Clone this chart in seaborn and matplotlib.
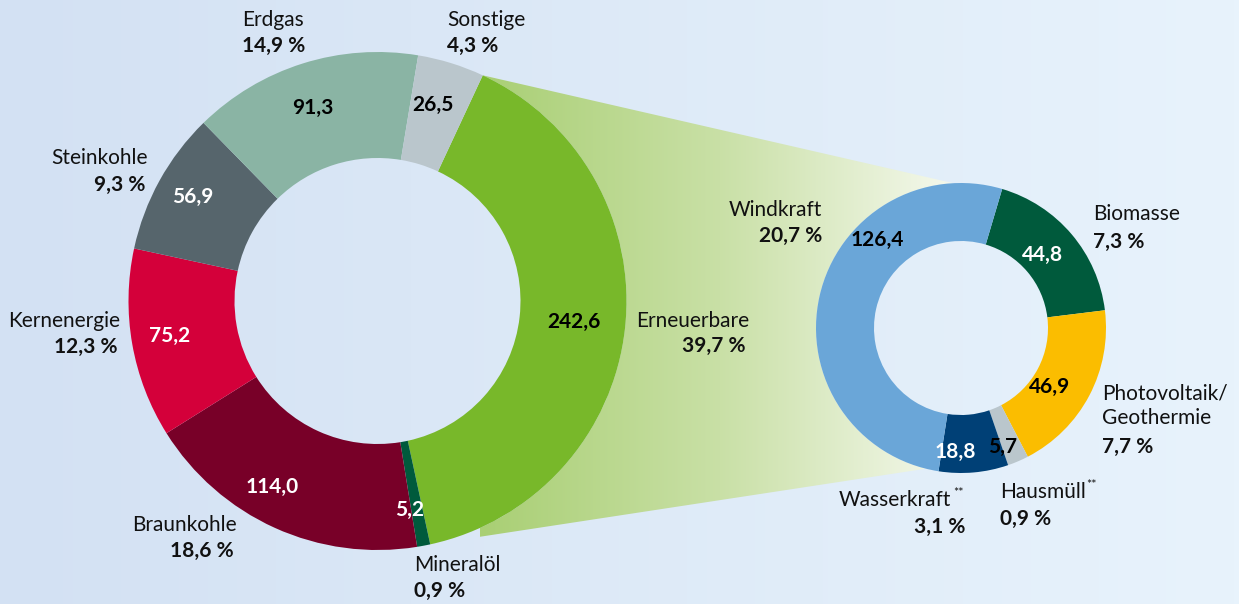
import numpy as np
import matplotlib.pyplot as plt
import seaborn as sns
from matplotlib.patches import Polygon

# ==========================================
# Data
# ==========================================

# Bruttostromerzeugung, left donut (TWh), clockwise from Erneuerbare
main_labels = ["Erneuerbare", "Mineralöl", "Braunkohle", "Kernenergie",
               "Steinkohle", "Erdgas", "Sonstige"]
main_values = [242.6, 5.2, 114.0, 75.2, 56.9, 91.3, 26.5]
main_shares = [39.7, 0.9, 18.6, 12.3, 9.3, 14.9, 4.3]
main_colors = ["#78b82a", "#005a3c", "#780028", "#d4003a",
               "#56656c", "#8ab4a4", "#bac6cc"]
main_value_colors = ["black", "white", "white", "white", "white", "black", "black"]

# Erneuerbare split, right donut, clockwise from Biomasse
ren_labels = ["Biomasse", "Photovoltaik/\nGeothermie", "Hausmüll", "Wasserkraft", "Windkraft"]
ren_values = [44.8, 46.9, 5.7, 18.8, 126.4]
ren_shares = [7.3, 7.7, 0.9, 3.1, 20.7]
ren_colors = ["#005a3c", "#fbbd00", "#bac6cc", "#004076", "#6aa6d8"]
ren_value_colors = ["white", "black", "black", "white", "black"]
ren_footnote = ["", "", "**", "**", ""]


def fmt(v):
    return f"{v:.1f}".replace(".", ",")


# ==========================================
# Layout (pixel coords, y measured from top)
# ==========================================

W, H = 1239, 604
FONT = "Lato"
FS = 15
TXT = "#111111"

def ty(y):
    return H - y

L_CX, L_CY, L_R, L_r = 377.5, ty(301), 249, 143
R_CX, R_CY, R_R, R_r = 961, ty(328), 145, 87

# name label: (x_name, y_name, x_pct, y_pct, ha_name, ha_pct)
main_label_pos = [(636, 321, 746, 346, "left", "right"),
                  (414, 565, 414, 591, "left", "left"),
                  (237, 525, 234, 551, "right", "right"),
                  (120, 321, 117, 347, "right", "right"),
                  (148, 158, 145, 185, "right", "right"),
                  (242, 20, 242, 46, "left", "left"),
                  (447, 20, 447, 46, "left", "left")]
main_value_pos = [(574, 322), (410, 510), (272, 487), (170, 336),
                  (193, 197), (313, 108), (433, 105)]

ren_label_pos = [(1093, 214, 1093, 242, "left", "left"),
                 (1102, 405.5, 1102, 447, "left", "left"),
                 (1000, 492, 1000, 519, "left", "left"),
                 (951, 500, 965, 527, "right", "right"),
                 (822, 210, 822, 236, "right", "right")]
ren_value_pos = [(1043, 255), (1050, 387), (1003, 447), (955, 452), (877, 240)]

# ==========================================
# Plot
# ==========================================

sns.set_theme(style="white")
plt.rcParams["font.family"] = [FONT, "DejaVu Sans"]

fig = plt.figure(figsize=(W / 100, H / 100), dpi=100)
ax = fig.add_axes([0, 0, 1, 1])

# background gradient
bg = np.linspace(0, 1, 256)[None, :]
bg_cmap = sns.blend_palette(["#d3e1f3", "#e8f3fc"], as_cmap=True)
ax.imshow(bg, extent=[0, W, 0, H], cmap=bg_cmap, aspect="auto", zorder=0)

# left donut
wl, _ = ax.pie(main_values, center=(L_CX, L_CY), radius=L_R, startangle=65,
               counterclock=False, colors=main_colors,
               wedgeprops=dict(width=L_R - L_r, edgecolor="none", zorder=3))
# right donut
wr, _ = ax.pie(ren_values, center=(R_CX, R_CY), radius=R_R, startangle=73.5,
               counterclock=False, colors=ren_colors,
               wedgeprops=dict(width=R_R - R_r, edgecolor="none", zorder=3))

# connector between Erneuerbare wedge and right donut
t_lo, t_hi = wl[0].theta1, wl[0].theta2
left_arc = np.radians(np.linspace(t_lo, t_hi, 80))
right_arc = np.radians(np.linspace(93, 256, 80))
pts = [(R_CX + R_R * np.cos(a), R_CY + R_R * np.sin(a)) for a in right_arc]
pts += [(L_CX + L_R * np.cos(a), L_CY + L_R * np.sin(a)) for a in left_arc]
conn = Polygon(pts, closed=True, facecolor="none", edgecolor="none")
ax.add_patch(conn)
grad = np.linspace(0, 1, 256)[None, :]
conn_cmap = sns.blend_palette(["#a9cf74", "#c9e0a6", "#f6f9ef"], as_cmap=True)
im = ax.imshow(grad, extent=[480, 960, 0, H], cmap=conn_cmap, aspect="auto", zorder=1)
im.set_clip_path(conn)

# labels left
for i, name in enumerate(main_labels):
    xn, yn, xp, yp, han, hap = main_label_pos[i]
    ax.text(xn, ty(yn), name, ha=han, va="center", fontsize=FS, color=TXT)
    ax.text(xp, ty(yp), f"{fmt(main_shares[i])} %", ha=hap, va="center",
            fontsize=FS, fontweight="bold", color=TXT)
    vx, vy = main_value_pos[i]
    ax.text(vx, ty(vy), fmt(main_values[i]), ha="center", va="center",
            fontsize=FS, fontweight="bold", color=main_value_colors[i], zorder=5)

# labels right
for i, name in enumerate(ren_labels):
    xn, yn, xp, yp, han, hap = ren_label_pos[i]
    ax.text(xn, ty(yn), name, ha=han, va="center", fontsize=FS, color=TXT,
            linespacing=1.3)
    if ren_footnote[i]:
        fx = xn + 2 if han == "right" else xn + 86
        ax.text(fx, ty(yn - 7), ren_footnote[i], ha="left", va="center",
                fontsize=9, color=TXT)
    ax.text(xp, ty(yp), f"{fmt(ren_shares[i])} %", ha=hap, va="center",
            fontsize=FS, fontweight="bold", color=TXT)
    vx, vy = ren_value_pos[i]
    ax.text(vx, ty(vy), fmt(ren_values[i]), ha="center", va="center",
            fontsize=FS, fontweight="bold", color=ren_value_colors[i], zorder=5)

ax.set_xlim(0, W)
ax.set_ylim(0, H)
ax.set_aspect("equal")
ax.axis("off")

plt.savefig("out.png", dpi=100)
